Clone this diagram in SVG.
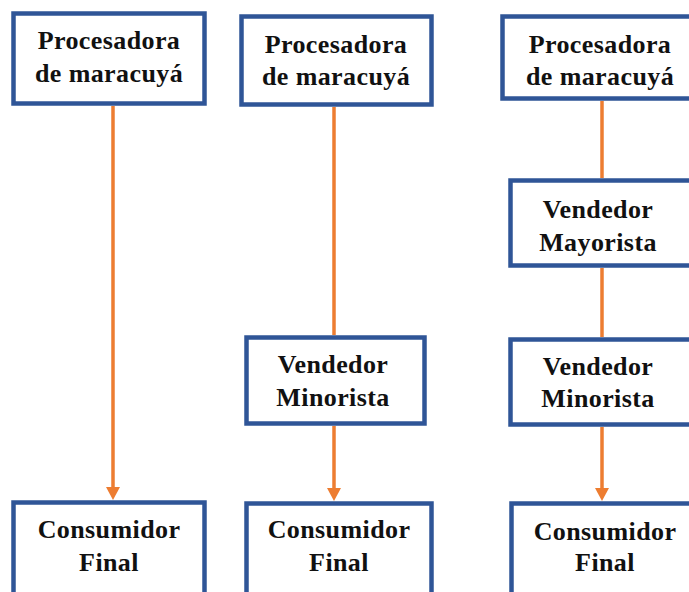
<svg xmlns="http://www.w3.org/2000/svg" width="689" height="592" viewBox="0 0 689 592">
<style>
.box{fill:#fff;stroke:#2F5597;stroke-width:4.5}
.t{font-family:'Liberation Serif','Times New Roman',Tinos,'DejaVu Serif',serif;font-weight:bold;font-size:26px;fill:#111;text-anchor:middle;letter-spacing:0.4px}
.c{stroke:#ED7D31;stroke-width:3.5;fill:none}
.ah{fill:#ED7D31}
</style>
<rect width="689" height="592" fill="#fff"/>
<g id="connectors">
<line class="c" x1="113" y1="106" x2="113" y2="487"/>
<path class="ah" d="M106,487 L120,487 L113,500 Z"/>
<line class="c" x1="334" y1="107" x2="334" y2="335"/>
<line class="c" x1="334" y1="426" x2="334" y2="488"/>
<path class="ah" d="M327,488 L341,488 L334,501 Z"/>
<line class="c" x1="602" y1="101" x2="602" y2="178"/>
<line class="c" x1="602" y1="268" x2="602" y2="337"/>
<line class="c" x1="602" y1="427" x2="602" y2="488"/>
<path class="ah" d="M595,488 L609,488 L602,501 Z"/>
</g>
<g id="proc1">
<rect class="box" x="13.5" y="13.5" width="191" height="90"/>
<text class="t" x="109" y="49">Procesadora</text>
<text class="t" x="109" y="82">de maracuyá</text>
</g>
<g id="proc2">
<rect class="box" x="241.5" y="16.5" width="190" height="88"/>
<text class="t" x="336" y="53">Procesadora</text>
<text class="t" x="336" y="85">de maracuyá</text>
</g>
<g id="proc3">
<rect class="box" x="502.5" y="16.5" width="200" height="82"/>
<text class="t" x="600" y="53">Procesadora</text>
<text class="t" x="600" y="85">de maracuyá</text>
</g>
<g id="mayorista3">
<rect class="box" x="510.5" y="180.5" width="200" height="85"/>
<text class="t" x="598" y="218">Vendedor</text>
<text class="t" x="598" y="251">Mayorista</text>
</g>
<g id="minorista2">
<rect class="box" x="246.5" y="337.5" width="178" height="86"/>
<text class="t" x="333" y="373">Vendedor</text>
<text class="t" x="333" y="406">Minorista</text>
</g>
<g id="minorista3">
<rect class="box" x="510.5" y="339.5" width="200" height="85"/>
<text class="t" x="598" y="375">Vendedor</text>
<text class="t" x="598" y="407">Minorista</text>
</g>
<g id="consumidor1">
<rect class="box" x="13.5" y="502.5" width="191" height="110"/>
<text class="t" x="109" y="538">Consumidor</text>
<text class="t" x="109" y="571">Final</text>
</g>
<g id="consumidor2">
<rect class="box" x="246.5" y="503.5" width="185" height="110"/>
<text class="t" x="339" y="538">Consumidor</text>
<text class="t" x="339" y="571">Final</text>
</g>
<g id="consumidor3">
<rect class="box" x="511.5" y="503.5" width="200" height="110"/>
<text class="t" x="605" y="540">Consumidor</text>
<text class="t" x="605" y="571">Final</text>
</g>
</svg>
